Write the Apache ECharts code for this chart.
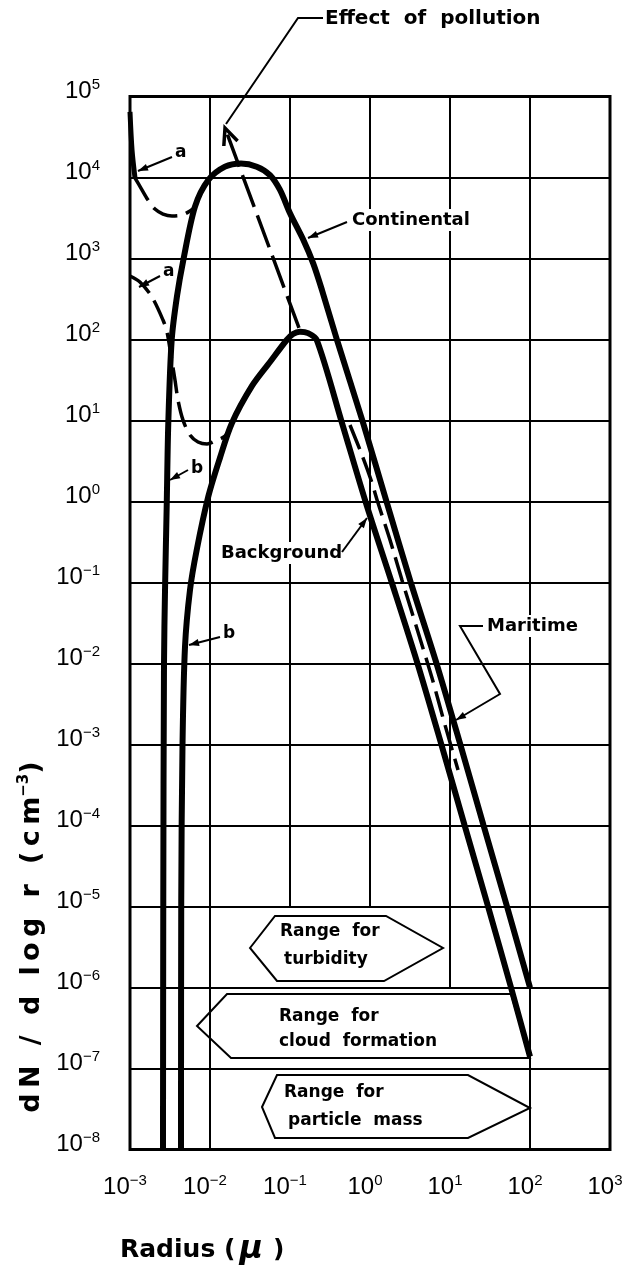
<!DOCTYPE html>
<html>
<head>
<meta charset="utf-8">
<script src="https://cdn.jsdelivr.net/npm/echarts@6/dist/echarts.min.js"></script>
<style>
  html, body { margin: 0; padding: 0; background: #fff; }
  #chart { width: 637px; height: 1269px; }
</style>
</head>
<body>
<div id="chart"></div>
<script>
// radius (micron) and dN/dlog r (cm^-3)
var continentalR = [2.585e-3, 2.606e-3, 2.66e-3, 2.74e-3, 2.88e-3, 3.01e-3, 3.32e-3, 3.87e-3, 4.64e-3, 6.49e-3,
  9.52e-3, 1.54e-2, 2.44e-2, 3.84e-2, 5.62e-2, 7.50e-2, 0.1, 0.147, 0.195, 0.251, 0.387, 0.818, 1.63, 3.25,
  6.88, 13.7, 26.2, 51.6, 100];
var continentalN = [1e-8, 1.2e-5, 9.55e-3, 8.07e-2, 0.95, 9.2, 98.6, 344, 957, 4365,
  9310, 1.36e4, 1.49e4, 1.36e4, 1.07e4, 7015, 3614, 1690, 871, 408, 98.6, 9.4, 0.957, 9.86e-2,
  9.57e-3, 9.4e-4, 1.01e-4, 1e-5, 1e-6];

var backgroundR = [4.34e-3, 4.37e-3, 4.53e-3, 4.87e-3, 5.62e-3, 6.82e-3, 9.52e-3, 1.33e-2, 1.87e-2, 3.35e-2,
  5.62e-2, 9.1e-2, 0.109, 0.133, 0.168, 0.216, 0.447, 0.891, 1.88, 3.98, 7.94, 15.2, 29.9, 57.9, 100];
var backgroundN = [1e-8, 1.2e-5, 9.4e-4, 1.61e-2, 8.07e-2, 0.252, 1.15, 3.44, 9.2, 26.7,
  52.7, 98.6, 117, 125, 120, 98.6, 9.3, 0.957, 9.86e-2, 9.57e-3, 9.4e-4, 1.01e-4, 1e-5, 1e-6, 1.4e-7];

// curve "a" for the continental case: steep start, then dashed
var contAStartR = [1.0e-3, 1.06e-3, 1.155e-3];
var contAStartN = [6.44e4, 2.19e4, 9860];
var contAR = [1.155e-3, 1.37e-3, 1.68e-3, 2.05e-3, 2.585e-3, 3.35e-3, 4.47e-3, 5.62e-3, 6.49e-3];
var contAN = [9860, 7410, 5270, 4080, 3540, 3350, 3440, 3855, 4325];

// curve "a" for the background case
var backAR = [1.0e-3, 1.33e-3, 1.88e-3, 2.585e-3, 2.90e-3, 3.25e-3, 3.65e-3, 3.98e-3, 4.60e-3, 5.62e-3, 7.08e-3,
  9.18e-3, 1.155e-2, 1.54e-2, 1.88e-2];
var backAN = [608, 513, 335, 174, 124, 64.4, 31.6, 17.9, 10.1, 6.62, 5.43, 5.13, 5.58, 6.44, 8.8];

// "effect of pollution" arrow, from background peak up-left
var pollutionR = [0.1295, 1.54e-2];
var pollutionN = [139, 4.08e4];

var maritimeR = [0.562, 0.794, 1.03, 1.26, 1.78, 2.51, 3.98, 5.96, 8.66, 12.6];
var maritimeN = [8.8, 3.75, 1.84, 0.957, 0.335, 0.107, 2.45e-2, 6.62e-3, 1.74e-3, 4.84e-4];

// vertical grid lines (inner decades) and where they stop at the bottom
var gridCols = [1e-2, 1e-1, 1, 10, 100];
var gridColsBottom = [1e-8, 1e-5, 1e-5, 1e-6, 1e-8];

var chart = echarts.init(document.getElementById('chart'));

function pairs(rs, ns) {
  return rs.map(function (r, i) { return [r, ns[i]]; });
}

function expLabel(v) {
  var e = Math.round(Math.log10(v));
  return '{b|10}{s|' + (e < 0 ? '\u2212' + (-e) : e) + '}';
}

var tickRich = {
  b: { fontFamily: 'Liberation Sans', fontSize: 24, lineHeight: 28, color: '#000' },
  s: { fontFamily: 'Liberation Sans', fontSize: 15, lineHeight: 15, verticalAlign: 'top', color: '#000' }
};

var thick = { color: '#000', width: 6 };
var dashed = { color: '#000', width: 3.5, type: [26, 9], cap: 'butt' };

function curve(name, data, style, smooth) {
  return {
    name: name,
    type: 'line',
    data: data,
    symbol: 'none',
    smooth: smooth,
    lineStyle: style,
    z: 3,
    silent: true
  };
}

chart.setOption({
  animation: false,
  grid: {
    left: 130,
    right: 27,
    top: 96.5,
    bottom: 119.5,
    show: true,
    borderColor: '#000',
    borderWidth: 3
  },
  xAxis: {
    type: 'log',
    min: 1e-3,
    max: 1e3,
    interval: 1,
    splitNumber: 6,
    axisLine: { show: false },
    axisTick: { show: false },
    splitLine: { show: false },
    axisLabel: { margin: 24, formatter: expLabel, rich: tickRich, padding: [0, 10, 0, 0] }
  },
  yAxis: {
    type: 'log',
    min: 1e-8,
    max: 1e5,
    interval: 1,
    splitNumber: 13,
    axisLine: { show: false },
    axisTick: { show: false },
    splitLine: { lineStyle: { color: '#000', width: 2 } },
    axisLabel: { margin: 30, formatter: expLabel, rich: tickRich, padding: [0, 0, 10, 0] }
  },
  series: [
    {
      name: 'grid',
      type: 'line',
      data: [],
      symbol: 'none',
      z: 1,
      markLine: {
        silent: true,
        symbol: 'none',
        label: { show: false },
        lineStyle: { color: '#000', width: 2, type: 'solid' },
        data: gridCols.map(function (c, i) {
          return [{ coord: [c, 1e5] }, { coord: [c, gridColsBottom[i]] }];
        })
      }
    },
    curve('Continental', pairs(continentalR, continentalN), thick, 0.3),
    curve('Background', pairs(backgroundR, backgroundN), thick, 0.3),
    curve('Continental a start', pairs(contAStartR, contAStartN), { color: '#000', width: 5 }, 0.3),
    curve('Continental a', pairs(contAR, contAN), dashed, 0.3),
    curve('Background a', pairs(backAR, backAN), dashed, 0.3),
    curve('Pollution', pairs(pollutionR, pollutionN), { color: '#000', width: 3.5, type: [34, 9], cap: 'butt' }, false),
    curve('Maritime', pairs(maritimeR, maritimeN), dashed, 0.3)
  ]
});

// annotations
var FONT = 'DejaVu Sans';

// hand lettering on the original is widely spaced
function spaced(s) {
  return s.split('').join('\u2009');
}

function text(str, x, y, size, extra) {
  var el = {
    type: 'text',
    x: x,
    y: y,
    z: 100,
    style: {
      text: str,
      fill: '#000',
      font: 'bold ' + size + 'px "' + FONT + '"',
      textVerticalAlign: 'middle',
      verticalAlign: 'middle'
    }
  };
  if (extra) {
    for (var k in extra) el.style[k] = extra[k];
  }
  return el;
}

function arrowHead(from, to, len, half) {
  var dx = to[0] - from[0], dy = to[1] - from[1];
  var d = Math.sqrt(dx * dx + dy * dy);
  var ux = dx / d, uy = dy / d;
  var bx = to[0] - ux * len, by = to[1] - uy * len;
  return {
    type: 'polygon',
    z: 100,
    shape: { points: [to, [bx - uy * half, by + ux * half], [bx + uy * half, by - ux * half]] },
    style: { fill: '#000' }
  };
}

function leader(points) {
  var n = points.length;
  return [
    { type: 'polyline', z: 100, shape: { points: points }, style: { stroke: '#000', lineWidth: 2, fill: null } },
    arrowHead(points[n - 2], points[n - 1], 10, 3.5)
  ];
}

function box(points) {
  return { type: 'polygon', z: 100, shape: { points: points }, style: { stroke: '#000', lineWidth: 2, fill: null } };
}

// open arrow head on the pollution line, at its upper end
var tip = chart.convertToPixel({ seriesIndex: 6 }, [pollutionR[1], pollutionN[1]]);
var tail = chart.convertToPixel({ seriesIndex: 6 }, [pollutionR[0], pollutionN[0]]);
var ang = Math.atan2(tail[1] - tip[1], tail[0] - tip[0]);
function wing(a) {
  return [tip[0] + 18 * Math.cos(ang + a), tip[1] + 18 * Math.sin(ang + a)];
}

var white = { backgroundColor: '#fff', padding: [2, 2, 2, 2] };

var graphics = [
  text('Effect  of  pollution', 325, 19, 20),
  { type: 'polyline', z: 100, shape: { points: [[323, 18], [298, 18], [226, 124]] }, style: { stroke: '#000', lineWidth: 2, fill: null } },
  { type: 'polyline', z: 100, shape: { points: [wing(0.42), tip, wing(-0.42)] }, style: { stroke: '#000', lineWidth: 3.5, fill: null } },

  text('Continental', 350, 220, 18, white),
  text('Background', 219, 553, 18, white),
  text('Maritime', 485, 626, 18, white),
  text('a', 175, 153, 17),
  text('a', 163, 272, 17),
  text('b', 191, 469, 17),
  text('b', 223, 634, 17),

  box([[250, 948], [275, 916], [386, 916], [443, 948], [384, 981], [277, 981]]),
  box([[197, 1026], [227, 994], [511, 994], [530, 1058], [231, 1058]]),
  box([[262, 1107], [277, 1075], [468, 1075], [530, 1108], [468, 1138], [275, 1138]]),
  text('Range  for', 280, 932, 17),
  text('turbidity', 284, 960, 17),
  text('Range  for', 279, 1017, 17),
  text('cloud  formation', 279, 1042, 17),
  text('Range  for', 284, 1093, 17),
  text('particle  mass', 288, 1121, 17),

  {
    type: 'text', x: 120, y: 1250, z: 100,
    style: {
      text: '{r|Radius (}{m|\u03bc}{r|)}',
      textVerticalAlign: 'middle', verticalAlign: 'middle',
      rich: {
        r: { font: 'bold 25px "' + FONT + '"', fill: '#000' },
        m: { font: 'italic bold 32px "' + FONT + '"', fill: '#000', padding: [0, 10, 0, 4] }
      }
    }
  },
  {
    type: 'text', x: 32, y: 937, z: 100, rotation: Math.PI / 2,
    style: {
      text: '{r|' + spaced('dN / d log r (cm') + '}{s|\u22123}{r|)}',
      textAlign: 'center', align: 'center',
      textVerticalAlign: 'middle', verticalAlign: 'middle',
      rich: {
        r: { font: 'bold 27px "' + FONT + '"', fill: '#000', lineHeight: 30 },
        s: { font: 'bold 15px "' + FONT + '"', fill: '#000', verticalAlign: 'top', lineHeight: 15 }
      }
    }
  }
];

graphics = graphics
  .concat(leader([[347, 222], [308, 238]]))
  .concat(leader([[342, 552], [367, 518]]))
  .concat(leader([[483, 626], [460, 626], [500, 694], [456, 720]]))
  .concat(leader([[172, 157], [138, 171]]))
  .concat(leader([[160, 276], [139, 287]]))
  .concat(leader([[188, 470], [170, 480]]))
  .concat(leader([[220, 637], [189, 645]]));

chart.setOption({ graphic: graphics });
</script>
</body>
</html>
